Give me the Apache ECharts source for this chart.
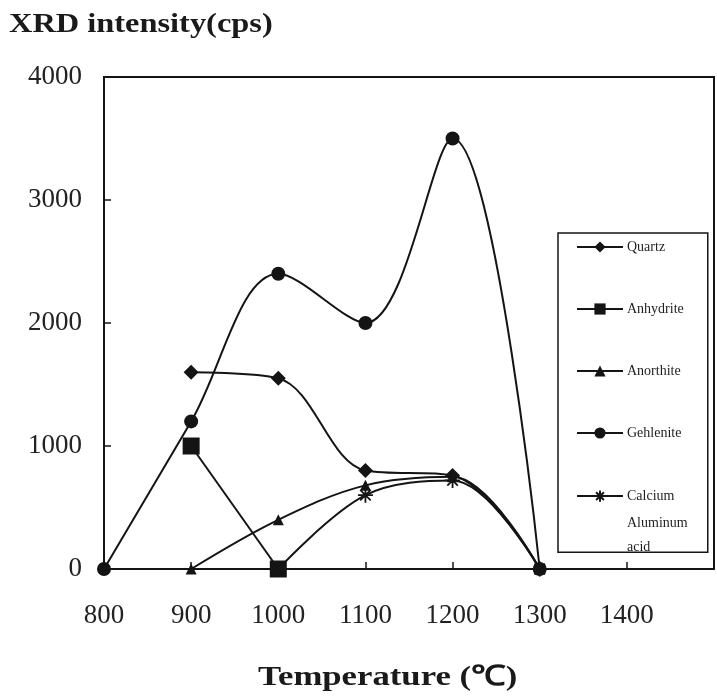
<!DOCTYPE html>
<html>
<head>
<meta charset="utf-8">
<script src="https://cdn.jsdelivr.net/npm/echarts@6/dist/echarts.min.js"></script>
<style>html,body{margin:0;padding:0;background:#fff;}#c{width:717px;height:699px;}</style>
</head>
<body>
<div id="c"></div>
<script>
var temps = [800, 900, 1000, 1100, 1200, 1300];
var quartz = [null, 1600, 1550, 800, 760, 0];
var anhydrite = [null, 1000, 0, null, null, null];
var anorthite = [null, 0, 400, 680, 750, 0];
var gehlenite = [0, 1200, 2400, 2000, 3500, 0];
var calcium = [null, null, 0, 600, 720, 0];
var seriesNames = ['Quartz', 'Anhydrite', 'Anorthite', 'Gehlenite', 'Calcium Aluminum acid'];
var xTicks = [800, 900, 1000, 1100, 1200, 1300, 1400];
var yTicks = [0, 1000, 2000, 3000, 4000];

var SERIF = '"Liberation Serif", "Times New Roman", serif';
var INK = '#141414';
var starPath = 'path://M0,5L10,5M5,0L5,10M1.5,1.5L8.5,8.5M8.5,1.5L1.5,8.5';

function pairs(arr) {
  var out = [];
  for (var i = 0; i < temps.length; i++) {
    if (arr[i] !== null) out.push([temps[i], arr[i]]);
  }
  return out;
}
function mk(name, arr, symbol, size, extraItem) {
  return {
    name: name, type: 'line', smooth: 0.35, data: pairs(arr),
    symbol: symbol, symbolSize: size, showSymbol: true,
    lineStyle: {color: INK, width: 2},
    itemStyle: Object.assign({color: INK}, extraItem || {}),
    z: 3
  };
}

var chart = echarts.init(document.getElementById('c'), null, {renderer: 'canvas'});
chart.setOption({
  backgroundColor: '#ffffff',
  animation: false,
  grid: {left: 104, top: 77, width: 616, height: 492, show: true, borderColor: INK, borderWidth: 2, backgroundColor: 'transparent'},
  xAxis: {
    type: 'value', min: 800, max: 1500, interval: 100,
    axisLine: {lineStyle: {color: INK, width: 2}},
    axisTick: {inside: true, length: 7, lineStyle: {color: INK, width: 1.5}},
    splitLine: {show: false},
    axisLabel: {
      margin: 33, fontSize: 27, fontFamily: SERIF, color: '#222',
      formatter: function (v) { return xTicks.indexOf(v) >= 0 ? String(v) : ''; }
    }
  },
  yAxis: {
    type: 'value', min: 0, max: 4000, interval: 1000,
    axisLine: {lineStyle: {color: INK, width: 2}},
    axisTick: {inside: true, length: 7, lineStyle: {color: INK, width: 1.5}},
    splitLine: {show: false},
    axisLabel: {
      margin: 22, fontSize: 27, fontFamily: SERIF, color: '#222',
      formatter: function (v) { return yTicks.indexOf(v) >= 0 ? String(v) : ''; }
    }
  },
  legend: {
    orient: 'vertical', left: 558, top: 233,
    padding: [7, 24, 48, 18], itemGap: 48, itemWidth: 46, itemHeight: 14,
    borderColor: INK, borderWidth: 1.5, backgroundColor: '#fff',
    data: seriesNames,
    formatter: function (n) { return n === 'Calcium Aluminum acid' ? 'Calcium' : n; },
    textStyle: {fontSize: 14, fontFamily: SERIF, color: '#1e1e1e', padding: [0, 0, 0, -1]}
  },
  graphic: [
    {type: 'text', left: 9, top: 12, scaleX: 1.2, style: {text: 'XRD intensity(cps)', fontSize: 27, fontWeight: 'bold', fontFamily: SERIF, fill: '#1a1a1a'}},
    {type: 'text', left: 258, top: 664, scaleX: 1.24, style: {text: 'Temperature (\u2103)', fontSize: 28, fontWeight: 'bold', fontFamily: SERIF, fill: '#1a1a1a'}},
    {type: 'text', left: 627, top: 516, style: {text: 'Aluminum', fontSize: 14, fontFamily: SERIF, fill: '#1e1e1e'}, z: 100},
    {type: 'text', left: 627, top: 540, style: {text: 'acid', fontSize: 14, fontFamily: SERIF, fill: '#1e1e1e'}, z: 100}
  ],
  series: [
    mk('Quartz', quartz, 'diamond', 15),
    mk('Anhydrite', anhydrite, 'rect', 17),
    mk('Anorthite', anorthite, 'triangle', 11),
    mk('Gehlenite', gehlenite, 'circle', 14),
    mk('Calcium Aluminum acid', calcium, starPath, 15, {color: 'none', borderColor: INK, borderWidth: 1.8})
  ]
});
</script>
</body>
</html>
